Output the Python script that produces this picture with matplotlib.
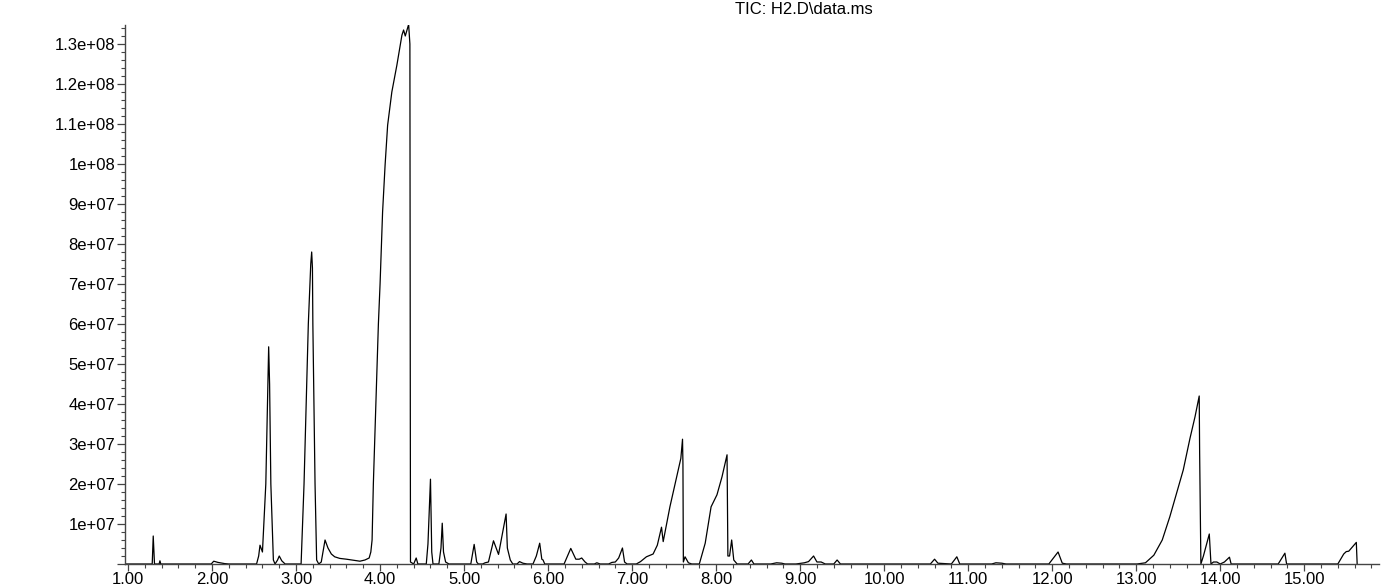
import numpy as np
import matplotlib
matplotlib.use("Agg")
from matplotlib import pyplot as plt
from matplotlib.ticker import MultipleLocator, FuncFormatter

# retention time (min) and total ion current
rt_min = [0.97, 1.00, 1.288, 1.300, 1.305, 1.315, 1.37, 1.38, 1.39,
          1.99, 2.02, 2.07, 2.15, 2.20,
          2.53, 2.555, 2.571, 2.60, 2.64, 2.674, 2.685, 2.70, 2.73, 2.75, 2.78, 2.80, 2.83, 2.87,
          3.06, 3.095, 3.146, 3.175, 3.186, 3.195, 3.20, 3.226, 3.245, 3.27,
          3.30, 3.345, 3.38, 3.42, 3.46, 3.52, 3.60, 3.70, 3.76, 3.82, 3.87, 3.89, 3.905,
          3.92, 3.95, 3.98, 4.00, 4.03, 4.06, 4.09, 4.14, 4.20, 4.26, 4.28, 4.30, 4.34, 4.355,
          4.362, 4.40, 4.43, 4.45, 4.55, 4.57, 4.60, 4.615, 4.63,
          4.70, 4.725, 4.74, 4.755, 4.78, 4.82,
          5.08, 5.12, 5.15, 5.17,
          5.22, 5.25, 5.29, 5.35, 5.41, 5.50, 5.515, 5.55, 5.58,
          5.63, 5.66, 5.70, 5.75,
          5.82, 5.86, 5.90, 5.925, 5.94, 5.96,
          6.19, 6.27, 6.33, 6.37, 6.40, 6.44, 6.47,
          6.55, 6.58, 6.62,
          6.72, 6.76, 6.80, 6.84, 6.885, 6.91, 6.94,
          7.05, 7.10, 7.17, 7.25, 7.30, 7.35, 7.37, 7.45, 7.53, 7.58, 7.60, 7.605, 7.61,
          7.63, 7.67, 7.71, 7.80,
          7.87, 7.94, 8.01, 8.07, 8.13, 8.14, 8.16, 8.185, 8.21, 8.25,
          8.38, 8.42, 8.45,
          8.65, 8.72, 8.78, 8.82,
          8.95, 9.05, 9.10, 9.16, 9.20, 9.25, 9.30,
          9.40, 9.44, 9.48,
          10.55, 10.60, 10.64, 10.80, 10.865, 10.90,
          11.28, 11.33, 11.40, 11.45,
          11.96, 12.07, 12.12, 12.17,
          13.01, 13.11, 13.21, 13.31, 13.40, 13.48, 13.56, 13.64, 13.70, 13.75, 13.755, 13.77,
          13.80, 13.87, 13.89, 13.92, 13.96, 14.00, 14.05, 14.11, 14.13,
          14.69, 14.77, 14.79,
          15.40, 15.47, 15.50, 15.53, 15.62, 15.63]

tic_counts = [0, 0, 0, 7.0e6, 4.5e6, 0, 0, 0.8e6, 0,
              0, 0.7e6, 0.4e6, 0.1e6, 0,
              0, 2.0e6, 4.7e6, 3.0e6, 2.0e7, 5.43e7, 4.5e7, 2.0e7, 1.0e6, 0, 1.0e6, 2.0e6, 0.8e6, 0,
              0, 2.0e7, 6.0e7, 7.5e7, 7.8e7, 7.4e7, 6.0e7, 2.0e7, 1.0e6, 0,
              0.5e6, 6.0e6, 4.0e6, 2.5e6, 1.8e6, 1.4e6, 1.2e6, 0.9e6, 0.7e6, 1.0e6, 1.5e6, 3.0e6, 6.0e6,
              2.0e7, 4.0e7, 6.0e7, 7.0e7, 8.8e7, 9.98e7, 1.097e8, 1.18e8, 1.247e8, 1.322e8, 1.335e8, 1.32e8, 1.349e8, 1.30e8,
              0.5e6, 0, 1.5e6, 0, 0, 5.0e6, 2.12e7, 3.0e6, 0,
              0, 4.0e6, 1.02e7, 3.0e6, 0.5e6, 0,
              0, 4.9e6, 0.5e6, 0,
              0, 0.3e6, 0.5e6, 5.8e6, 2.4e6, 1.25e7, 4.0e6, 1.0e6, 0,
              0, 0.6e6, 0.2e6, 0,
              0, 2.0e6, 5.2e6, 1.2e6, 1.0e6, 0,
              0, 3.9e6, 1.2e6, 1.2e6, 1.5e6, 0.5e6, 0,
              0, 0.3e6, 0,
              0, 0.4e6, 0.5e6, 1.5e6, 4.0e6, 0.5e6, 0,
              0, 0.6e6, 1.8e6, 2.5e6, 4.7e6, 9.2e6, 5.6e6, 1.43e7, 2.18e7, 2.64e7, 3.12e7, 2.5e7, 0.5e6,
              1.8e6, 0.3e6, 0, 0,
              5.2e6, 1.43e7, 1.73e7, 2.18e7, 2.73e7, 2.0e6, 2.0e6, 6.0e6, 1.0e6, 0,
              0, 1.0e6, 0,
              0, 0.3e6, 0.2e6, 0,
              0, 0.3e6, 0.6e6, 2.0e6, 0.5e6, 0.5e6, 0,
              0, 1.0e6, 0,
              0, 1.2e6, 0.2e6, 0, 1.8e6, 0,
              0, 0.3e6, 0.2e6, 0,
              0, 3.0e6, 0.2e6, 0,
              0, 0.3e6, 2.2e6, 6.0e6, 1.18e7, 1.77e7, 2.35e7, 3.14e7, 3.68e7, 4.2e7, 2.8e7, 0,
              2.0e6, 7.5e6, 0, 0.5e6, 0.5e6, 0, 0.5e6, 1.7e6, 0,
              0, 2.7e6, 0,
              0, 2.5e6, 3.1e6, 3.2e6, 5.4e6, 0]

title_text = "TIC: H2.D\\data.ms"


def fmt_y(v, pos):
    if v <= 0:
        return ""
    exp = int(np.floor(np.log10(v) + 1e-9))
    mant = v / 10 ** exp
    return "%ge+%02d" % (round(mant, 2), exp)


plt.rcParams['font.family'] = ['Liberation Sans', 'DejaVu Sans']

fig = plt.figure(figsize=(13.83, 5.87), dpi=100)
ax = fig.add_axes([125 / 1383, 23 / 587, 1254 / 1383, 539 / 587])

ax.plot(rt_min, tic_counts, color="black", lw=0.9)

ax.set_xlim(0.964, 15.89)
ax.set_ylim(0, 1.3475e8)

for side in ("top", "right"):
    ax.spines[side].set_visible(False)
for side in ("left", "bottom"):
    ax.spines[side].set_color("#444444")
    ax.spines[side].set_linewidth(1.0)

ax.xaxis.set_major_locator(MultipleLocator(1.0))
ax.xaxis.set_minor_locator(MultipleLocator(0.2))
ax.xaxis.set_major_formatter(FuncFormatter(lambda v, p: "%.2f" % v))
ax.yaxis.set_major_locator(MultipleLocator(1e7))
ax.yaxis.set_minor_locator(MultipleLocator(2e6))
ax.yaxis.set_major_formatter(FuncFormatter(fmt_y))

ax.tick_params(axis="both", which="both", direction="out", colors="#444444",
               labelcolor="black", labelsize=12)
ax.tick_params(axis="y", which="major", length=6, width=0.9, pad=1)
ax.tick_params(axis="y", which="minor", length=3, width=0.8)
ax.tick_params(axis="x", which="major", length=5, width=0.9, pad=1)
ax.tick_params(axis="x", which="minor", length=3, width=0.8)

fig.text(804 / 1383, 1 - 10 / 587, title_text, ha="center", va="center", fontsize=12)

fig.savefig("out.png", dpi=100)
